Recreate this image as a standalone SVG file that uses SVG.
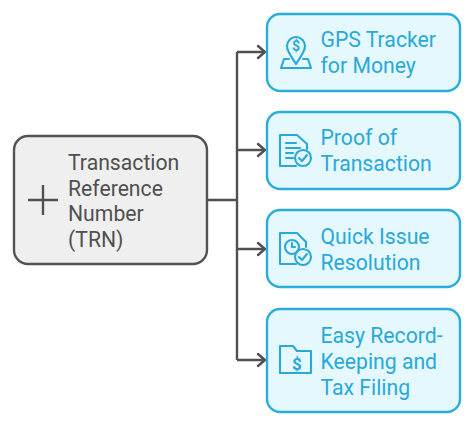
<svg xmlns="http://www.w3.org/2000/svg" width="474" height="426" viewBox="0 0 474 426">
<style>
text{font-family:Roboto,"Liberation Sans",sans-serif;font-size:21.2px}
.b{fill:#e4f8fe;stroke:#29add9;stroke-width:2.4}
.b2{fill:#efefef;stroke:#525252;stroke-width:2.4}
.t{fill:#29a9d8}
.t2{fill:#505050}
.i{fill:none;stroke:#29a9d8;stroke-width:2.1;stroke-linecap:round;stroke-linejoin:round}
.c{fill:none;stroke:#505050;stroke-width:2.4}
.a{fill:none;stroke:#505050;stroke-width:2.4;stroke-linecap:round;stroke-linejoin:miter}
</style>
<rect width="474" height="426" fill="#fff"/>
<g id="connectors">
<path class="c" d="M207 200H237M237 52V360M237 52H264M237 150H264M237 249H264M237 360H264"/>
<path class="a" d="M258 46L265 52L258 58M258 144L265 150L258 156M258 243L265 249L258 255M258 354L265 360L258 366"/>
</g>
<g id="root">
<rect class="b2" x="14" y="136" width="193" height="128" rx="14"/>
<path d="M43 185V215M28 200H58" fill="none" stroke="#505050" stroke-width="2.4"/>
<text class="t2" x="68" y="169.500">Transaction</text>
<text class="t2" x="68" y="195.500">Reference</text>
<text class="t2" x="68" y="221">Number</text>
<text class="t2" x="68" y="247">(TRN)</text>
</g>
<g id="gps">
<rect class="b" x="267" y="14" width="193" height="77" rx="13"/>
<path class="i" d="M296 64C292 57 287 52 287 46A9 9 0 0 1 305 46C305 52 300 57 296 64ZM289 59H284L281 68H311L308 59H303"/>
<text x="296" y="51" text-anchor="middle" style="font-size:14px;font-weight:700" class="t">$</text>
<text class="t" x="320.500" y="46.500">GPS Tracker</text>
<text class="t" x="320.500" y="72.500">for Money</text>
</g>
<g id="proof">
<rect class="b" x="267" y="112" width="193" height="77" rx="13"/>
<path class="i" d="M296 166H280V135H297L307 144V149M286 143H296M286 148H300M286 153H293M286 158H293"/>
<circle class="i" cx="303" cy="158" r="8"/>
<path class="i" d="M299 158L302 161L307 155"/>
<text class="t" x="320.500" y="145">Proof of</text>
<text class="t" x="320.500" y="171">Transaction</text>
</g>
<g id="quick">
<rect class="b" x="267" y="210" width="193" height="77" rx="13"/>
<path class="i" d="M296 264H280V233H297L306 242V247"/>
<circle class="i" cx="292" cy="247" r="7"/>
<path class="i" d="M292 243V247H295"/>
<circle class="i" cx="303" cy="257" r="8"/>
<path class="i" d="M299 257L302 260L307 254"/>
<text class="t" x="320.500" y="243.500">Quick Issue</text>
<text class="t" x="320.500" y="269.500">Resolution</text>
</g>
<g id="easy">
<rect class="b" x="267" y="309" width="193" height="103" rx="13"/>
<path class="i" d="M280 346V373H311V351H297L293 346Z"/>
<text x="297" y="369.500" text-anchor="middle" style="font-size:17px;font-weight:700" class="t">$</text>
<text class="t" x="320.500" y="342.500">Easy Record-</text>
<text class="t" x="320.500" y="368.500">Keeping and</text>
<text class="t" x="320.500" y="394.500">Tax Filing</text>
</g>
</svg>
